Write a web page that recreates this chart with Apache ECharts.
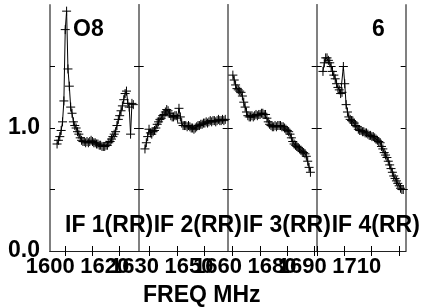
<!DOCTYPE html>
<html><head><meta charset="utf-8">
<script src="https://cdn.jsdelivr.net/npm/echarts@6/dist/echarts.min.js"></script>
<style>html,body{margin:0;padding:0;background:#fff}#c{width:423px;height:307px}</style>
</head><body><div id="c"></div>
<script>
// Channel amplitudes per IF
const if1Values = [0.87,0.90,0.93,0.98,1.05,1.22,1.80,1.95,1.48,1.34,1.17,1.12,1.05,1.02,1.00,0.97,0.95,0.92,0.90,0.89,0.89,0.88,0.89,0.88,0.89,0.90,0.89,0.88,0.88,0.87,0.87,0.86,0.86,0.85,0.85,0.85,0.86,0.86,0.88,0.89,0.91,0.93,0.95,0.97,1.02,1.07,1.10,1.14,1.18,1.23,1.28,1.30,1.20,1.17,0.95,1.20,1.19];
const if2Values = [0.83,0.88,0.93,0.99,0.96,0.95,0.97,0.98,1.00,1.03,1.05,1.07,1.08,1.10,1.11,1.13,1.15,1.14,1.12,1.10,1.09,1.09,1.10,1.10,1.08,1.16,1.09,1.04,1.02,1.02,1.02,1.01,1.02,1.01,1.00,1.00,0.99,1.00,1.01,1.02,1.02,1.03,1.03,1.04,1.04,1.05,1.04,1.05,1.06,1.05,1.06,1.06,1.05,1.06,1.07,1.06,1.06,1.07,1.06,1.07];
const if3Values = [1.43,1.39,1.35,1.32,1.31,1.30,1.29,1.26,1.21,1.17,1.13,1.10,1.09,1.09,1.10,1.09,1.10,1.11,1.10,1.11,1.11,1.12,1.12,1.11,1.11,1.08,1.05,1.03,1.02,1.01,1.01,1.02,1.01,1.02,1.02,1.02,1.01,1.01,1.00,0.99,0.98,0.97,0.95,0.92,0.89,0.87,0.86,0.85,0.84,0.83,0.82,0.81,0.80,0.79,0.77,0.73,0.68,0.64];
const if4Values = [1.46,1.53,1.57,1.57,1.55,1.53,1.50,1.46,1.43,1.40,1.36,1.33,1.31,1.28,1.29,1.50,1.36,1.19,1.13,1.09,1.07,1.06,1.05,1.04,1.02,1.01,0.99,0.98,0.98,0.97,0.97,0.96,0.96,0.95,0.94,0.94,0.93,0.93,0.92,0.91,0.90,0.89,0.88,0.85,0.83,0.80,0.78,0.76,0.73,0.70,0.67,0.64,0.61,0.59,0.57,0.55,0.53,0.51,0.50,0.50];
const ifValues = [if1Values, if2Values, if3Values, if4Values];
const ifStartFreq = [1597.0, 1628.3, 1660.1, 1692.1]; // MHz, first channel
const channelWidth = 0.5; // MHz
const panelRange = [[1594.4,1627.1],[1626.0,1658.7],[1658.2,1690.9],[1689.8,1722.5]];
const xTickValues = [[1600,1610,1620],[1630,1640,1650],[1660,1670,1680,1690],[1690,1700,1710,1720]];
const xTickLabels = [[1600,1620],[1630,1650],[1660,1680],[1690,1710]];
const ifLabels = ['IF 1(RR)','IF 2(RR)','IF 3(RR)','IF 4(RR)'];
const yTickValues = [0.5, 1.0, 1.5];
const yTickLabels = [0.0, 1.0];
const sourceLabel = 'O8';
const panelLabel = '6';
const xAxisTitle = 'FREQ MHz';

const FONT = 'Liberation Sans, Arial, sans-serif';
const panelLeft = [50, 138.7, 227.7, 316.7];
const panelWidth = 89, panelTop = 5, panelHeight = 246;

const grids = [], xAxes = [], yAxes = [], series = [], titles = [];
const bold = {fontFamily: FONT, fontWeight: 'bold', fontSize: 22, color: '#000'};
const boldIF = Object.assign({}, bold, {fontSize: 23});
for (let i = 0; i < 4; i++) {
  grids.push({left: panelLeft[i], top: panelTop, width: panelWidth, height: panelHeight, show: false});
  const common = {type: 'value', gridIndex: i, min: panelRange[i][0], max: panelRange[i][1], splitLine: {show: false}};
  xAxes.push(Object.assign({}, common, {
    position: 'bottom',
    axisLine: {show: true, lineStyle: {color: '#000', width: 1}},
    axisTick: {show: true, inside: true, length: 5, lineStyle: {color: '#000'}, customValues: xTickValues[i]},
    axisLabel: {show: true, margin: 5, customValues: xTickLabels[i], align: 'center', padding: [0, 30, 0, 0],
      fontFamily: FONT, fontWeight: 'bold', fontSize: 22, color: '#000', formatter: v => String(Math.round(v))}
  }));
  xAxes.push(Object.assign({}, common, {
    position: 'top',
    axisLine: {show: true, lineStyle: {color: '#222', width: 1}},
    axisTick: {show: true, inside: true, length: 5, lineStyle: {color: '#000'}, customValues: xTickValues[i]},
    axisLabel: {show: false}
  }));
  const ycommon = {type: 'value', gridIndex: i, min: 0, max: 2.0, splitLine: {show: false}};
  yAxes.push(Object.assign({}, ycommon, {
    position: 'left',
    axisLine: {show: true, lineStyle: {color: '#808080', width: 2}},
    axisTick: {show: true, inside: true, length: 5, lineStyle: {color: '#000'}, customValues: yTickValues},
    axisLabel: {show: i === 0, margin: 10, customValues: yTickLabels,
      fontFamily: FONT, fontWeight: 'bold', fontSize: 23, color: '#000', formatter: v => v.toFixed(1)}
  }));
  yAxes.push(Object.assign({}, ycommon, {
    position: 'right',
    axisLine: {show: true, lineStyle: {color: '#808080', width: 2}},
    axisTick: {show: true, inside: true, length: 5, lineStyle: {color: '#000'}, customValues: yTickValues},
    axisLabel: {show: false}
  }));
  const data = ifValues[i].map((v, j) => [ifStartFreq[i] + j * channelWidth, v]);
  series.push({
    type: 'line', xAxisIndex: i * 2, yAxisIndex: i * 2, data: data,
    symbol: 'path://M0,5L10,5M5,0L5,10', symbolSize: 9, showAllSymbol: true,
    itemStyle: {color: 'transparent', borderColor: '#000', borderWidth: 1},
    lineStyle: {color: '#000', width: 1}, z: 3
  });
  titles.push({text: ifLabels[i], left: panelLeft[i] + 15, top: 214, padding: 0, textStyle: boldIF});
}
titles.push({text: sourceLabel, left: 73, top: 18, padding: 0, textStyle: boldIF});
titles.push({text: panelLabel, left: 372, top: 18, padding: 0, textStyle: boldIF});
titles.push({text: xAxisTitle, left: 143, top: 284, padding: 0, textStyle: boldIF});

const chart = echarts.init(document.getElementById('c'), null, {renderer: 'canvas'});
chart.setOption({animation: false, backgroundColor: '#fff', title: titles, grid: grids, xAxis: xAxes, yAxis: yAxes, series: series});
</script></body></html>
